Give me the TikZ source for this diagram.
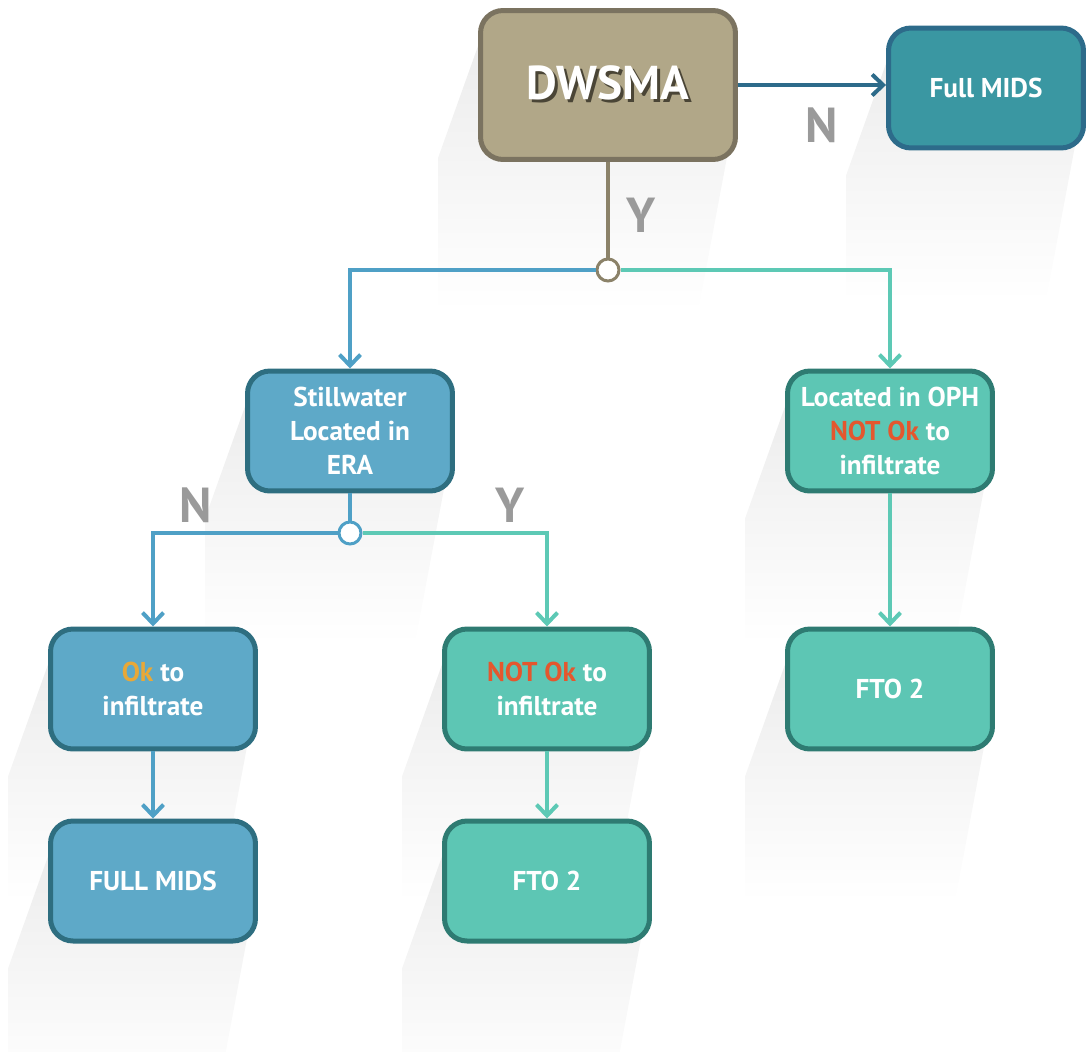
\documentclass[tikz,border=0pt]{standalone}
\usepackage{fontspec}
\setmainfont{PT Sans}
\usetikzlibrary{arrows.meta,calc,backgrounds}

\definecolor{tanfill}{HTML}{B1A788}
\definecolor{tanborder}{HTML}{7B7360}
\definecolor{tanline}{HTML}{8B8269}
\definecolor{tandark}{HTML}{4A4536}
\definecolor{bluefill}{HTML}{5EA9C8}
\definecolor{blueborder}{HTML}{2E6E80}
\definecolor{blueline}{HTML}{4FA0C6}
\definecolor{tealfill}{HTML}{5DC6B4}
\definecolor{tealborder}{HTML}{2E7B72}
\definecolor{tealline}{HTML}{5DC9B5}
\definecolor{topfill}{HTML}{3A97A2}
\definecolor{topborder}{HTML}{2D6B8A}
\definecolor{answergray}{HTML}{9A9A9A}
\definecolor{okorange}{HTML}{E8A838}
\definecolor{notred}{HTML}{E4572E}

\newcommand\boxfont{\fontsize{15.5}{19.5}\selectfont\bfseries}
\newcommand\answerfont{\fontsize{28}{30}\selectfont\bfseries}
\newcommand\titlefont{\fontsize{27}{30}\selectfont\bfseries}

% long shadow behind a box
\newcommand\boxshadow[1]{%
    \shade[top color=black!8, middle color=black!15, bottom color=white]
        ($(#1.north west)+(10,10)$) -- ($(#1.north east)+(-10,10)$) -- ($(#1.south east)+(-10,-10)$)
        -- ($(#1.south east)+(-40,150)$) -- ($(#1.south west)+(-40,150)$) -- ($(#1.north west)+(-40,150)$) -- cycle;
}

\tikzset{
    box/.style={draw, line width=0.1cm, rounded corners=0.45cm, minimum width=4.1cm, minimum height=2.4cm, align=center, text=white, font=\boxfont},
    bluebox/.style={box, fill=bluefill, draw=blueborder},
    tealbox/.style={box, fill=tealfill, draw=tealborder},
    tanbox/.style={box, fill=tanfill, draw=tanborder, minimum width=5.1cm, minimum height=2.98cm},
    topbox/.style={box, fill=topfill, draw=topborder, minimum width=3.9cm},
    link/.style={line width=0.08cm},
    arrow/.style={link, -{Straight Barb[length=0.22cm, width=0.42cm]}},
    junction/.style={circle, draw, fill=white, line width=0.06cm, minimum size=0.44cm, inner sep=0pt},
    answer/.style={font=\answerfont, text=answergray},
    title/.style={font=\titlefont, text=white, inner sep=0pt}
}

\begin{document}
\begin{tikzpicture}[x=0.02cm, y=-0.02cm]
    \useasboundingbox (0,0) rectangle (1088,1051);

    % Top level
    \node[tanbox] (dwsma) at (608,85) {};
    \node[title] (dwsmalabel) at (608,84) {\makebox[0pt][l]{\hspace{1.6pt}\raisebox{-1.6pt}{\color{tandark}DWSMA}}DWSMA};
    \node[topbox] (topmids) at (986,88) {Full MIDS};

    % Second level
    \node[junction, draw=tanline] (j1) at (608,270) {};
    \node[bluebox] (still) at (350,431) {Stillwater\\Located in\\ERA};
    \node[tealbox] (oph) at (890,431) {Located in OPH\\{\color{notred}NOT Ok} to\\infiltrate};

    % Third level
    \node[junction, draw=blueline] (j2) at (350,533) {};
    \node[bluebox] (ok) at (153,689) {{\color{okorange}Ok} to\\infiltrate};
    \node[tealbox] (notok) at (547,689) {{\color{notred}NOT Ok} to\\infiltrate};
    \node[tealbox] (ftoright) at (890,689) {FTO 2};

    % Bottom level
    \node[bluebox] (fullmids) at (153,881) {FULL MIDS};
    \node[tealbox] (ftomid) at (547,881) {FTO 2};

    % Answers
    \node[answer] (nTop) at (822,125) {N};
    \node[answer] (yTop) at (641,215) {Y};
    \node[answer] (nEra) at (196,505) {N};
    \node[answer] (yEra) at (510,505) {Y};

    % Connectors
    \draw[arrow, topborder] (dwsma.east) -- (dwsma.east -| topmids.west);
    \draw[link, tanline] (dwsma) -- (j1);
    \draw[arrow, blueline] (j1.west) -| (still.north);
    \draw[arrow, tealline] (j1.east) -| (oph.north);
    \draw[link, blueline] (still) -- (j2);
    \draw[arrow, blueline] (j2.west) -| (ok.north);
    \draw[arrow, tealline] (j2.east) -| (notok.north);
    \draw[arrow, tealline] (oph) -- (ftoright);
    \draw[arrow, blueline] (ok) -- (fullmids);
    \draw[arrow, tealline] (notok) -- (ftomid);

    % Shadows
    \begin{scope}[on background layer]
        \boxshadow{dwsma}
        \boxshadow{topmids}
        \boxshadow{still}
        \boxshadow{oph}
        \boxshadow{ok}
        \boxshadow{notok}
        \boxshadow{ftoright}
        \boxshadow{fullmids}
        \boxshadow{ftomid}
    \end{scope}
\end{tikzpicture}
\end{document}
